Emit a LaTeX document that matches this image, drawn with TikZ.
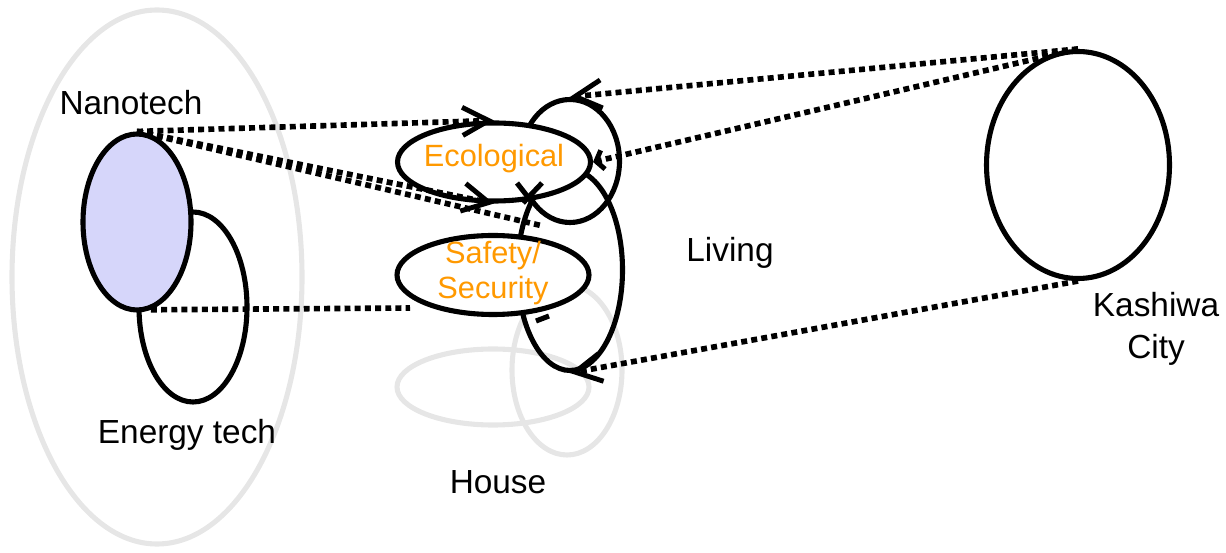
\documentclass[tikz,border=0pt]{standalone}
\usepackage{fontspec}
\setmainfont{Liberation Sans}
\usetikzlibrary{shapes.geometric,arrows.meta}
\definecolor{nanofill}{RGB}{214,214,250}
\definecolor{ringgrey}{RGB}{230,230,230}
\definecolor{aspect}{RGB}{255,153,0}

\begin{document}
\begin{tikzpicture}[x=0.02cm,y=-0.02cm,
    ring/.style 2 args={ellipse,draw,line width=2.9pt,inner sep=0pt,
        minimum width=#1*0.02cm,minimum height=#2*0.02cm},
    faint/.style={draw=ringgrey},
    link/.style={line width=3.2pt,dash pattern=on 3.4pt off 2.4pt},
    barb/.style={-{Straight Barb[length=15pt,width=16pt,line width=2.8pt]}},
    smallbarb/.style={-{Straight Barb[length=4pt,width=11pt,line width=2.8pt]}},
    lbl/.style={font=\fontsize{19}{24}\selectfont,align=center},
    aspectlbl/.style={text=aspect,font=\fontsize{17.5}{20}\selectfont,align=center}]
        \useasboundingbox (0,0) rectangle (1226,553);
        % grey groups
        \node[ring={290}{534},faint] (techs) at (157,277) {};
        \node[ring={192}{76},faint] (househ) at (493,387) {};
        \node[ring={110}{170},faint] (housev) at (567,370) {};
        % technologies
        \node[ring={108}{190}] (energy) at (193,307) {};
        \node[ring={108}{176},fill=nanofill] (nano) at (137,222) {};
        % living
        \node[ring={99}{123}] (livsmall) at (570,161) {};
        \node[ring={105}{201}] (livbig) at (570,270) {};
        \node[ring={193}{78},fill=white] (eco) at (494,162) {};
        \node[ring={192}{79},fill=white] (safety) at (493,275) {};
        % city
        \node[ring={183}{227}] (kashiwa) at (1078,165) {};
        % labels
        \node[lbl] (nanolbl) at (131,103) {Nanotech};
        \node[lbl] (energylbl) at (187,435) {Energy tech};
        \node[aspectlbl] (ecolbl) at (494,159) {Ecological};
        \node[aspectlbl] (safetylbl) at (493,273) {Safety/\\Security};
        \node[lbl] (livinglbl) at (730,253) {Living};
        \node[lbl] (houselbl) at (498,482) {House};
        \node[lbl] (citylbl) at (1156,329) {Kashiwa\\City};
        % links
        \coordinate (safetop) at (543,226);
        \coordinate (safeleft) at (410,308);
        \draw[link,barb] (nano.north) -- (eco.north);
        \draw[link,barb] (nano.north) -- (eco.south);
        \draw[link] (nano.north) -- (safetop);
        \draw[link] (nano.-81) -- (safeleft);
        \draw[link,barb] (kashiwa.north) -- (livsmall.north);
        \draw[link,smallbarb] (kashiwa.north) -- (eco.east);
        \draw[link,barb] (kashiwa.south) -- (livbig.south);
        % marks on the living rings
        \draw[line width=2.9pt] (517,183) -- (531,201) (542,183) -- (523,203);
        \draw[line width=2.9pt] (536,321) -- (549,316);
\end{tikzpicture}
\end{document}
